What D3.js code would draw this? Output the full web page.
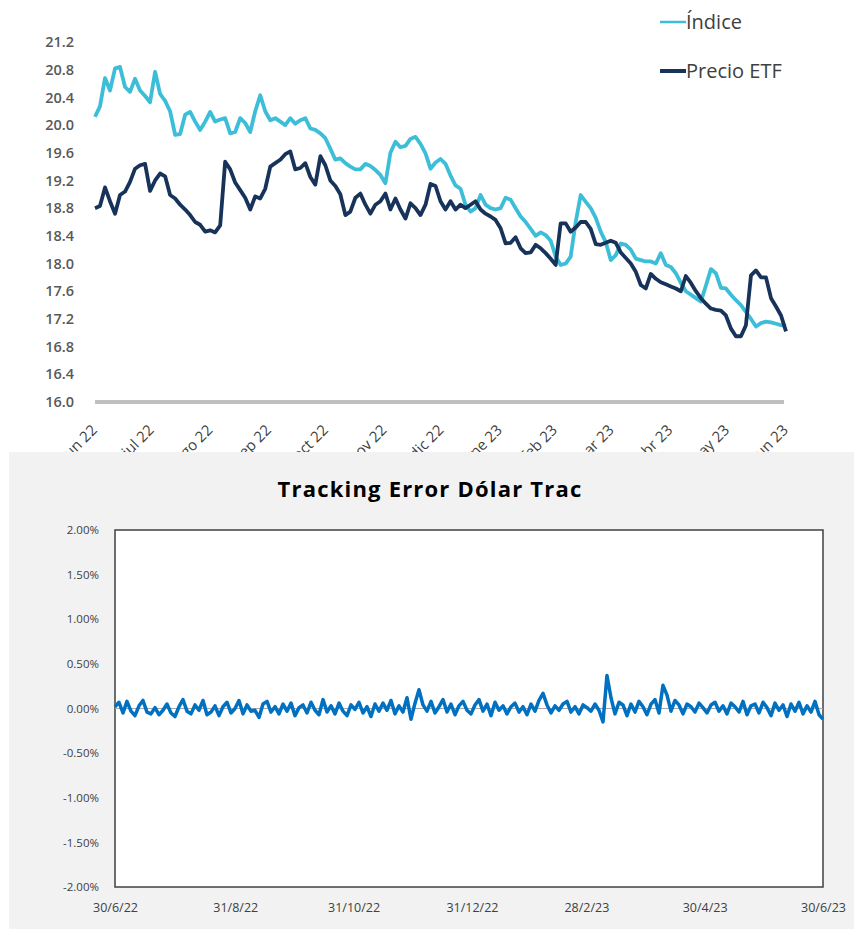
<!DOCTYPE html>
<html>
<head>
<meta charset="utf-8">
<script src="https://cdn.jsdelivr.net/npm/d3@7"></script>
<style>
  body { margin: 0; background: #fff; }
  svg { display: block; font-family: "Open Sans", sans-serif; }
</style>
</head>
<body>
<div id="chart"></div>
<script>
// top chart: Índice vs Precio ETF (one reading every ~2.6 days, 30/6/22 - 30/6/23)
var indice = [20.12, 20.27, 20.68, 20.5, 20.82, 20.84, 20.55, 20.48, 20.67, 20.5,
  20.42, 20.33, 20.77, 20.45, 20.35, 20.2, 19.86, 19.87, 20.15, 20.19,
  20.05, 19.93, 20.05, 20.19, 20.05, 20.08, 20.1, 19.88, 19.9, 20.1,
  20.03, 19.9, 20.2, 20.43, 20.2, 20.07, 20.1, 20.05, 20.0, 20.1,
  20.02, 20.07, 20.1, 19.95, 19.93, 19.88, 19.81, 19.66, 19.5, 19.52,
  19.45, 19.4, 19.36, 19.36, 19.44, 19.41, 19.35, 19.28, 19.16, 19.6,
  19.76, 19.68, 19.7, 19.8, 19.83, 19.73, 19.59, 19.37, 19.46, 19.51,
  19.44, 19.27, 19.13, 19.08, 18.85, 18.75, 18.8, 18.99, 18.85, 18.8,
  18.78, 18.8, 18.95, 18.92, 18.8, 18.68, 18.6, 18.5, 18.4, 18.45,
  18.41, 18.33, 18.1, 17.98, 18.0, 18.1, 18.6, 18.99, 18.89, 18.8,
  18.66, 18.46, 18.31, 18.05, 18.12, 18.29, 18.27, 18.2, 18.07, 18.05,
  18.03, 18.03, 18.0, 18.15, 17.98, 17.95, 17.86, 17.72, 17.6, 17.55,
  17.5, 17.45, 17.68, 17.92, 17.86, 17.65, 17.64, 17.55, 17.47, 17.4,
  17.3, 17.2, 17.09, 17.14, 17.16, 17.15, 17.13, 17.11, 17.1];

var precioEtf = [18.8, 18.83, 19.1, 18.9, 18.72, 18.99, 19.04, 19.18, 19.37, 19.42,
  19.44, 19.05, 19.2, 19.3, 19.26, 18.99, 18.94, 18.85, 18.78, 18.7,
  18.6, 18.56, 18.46, 18.48, 18.45, 18.55, 19.47, 19.36, 19.17, 19.06,
  18.95, 18.78, 18.97, 18.94, 19.08, 19.4, 19.45, 19.5, 19.58, 19.62,
  19.36, 19.38, 19.45, 19.25, 19.14, 19.55, 19.42, 19.2, 19.12, 19.0,
  18.7, 18.75, 18.95, 19.01, 18.85, 18.72, 18.85, 18.9, 19.01, 18.78,
  18.94, 18.78, 18.65, 18.87, 18.8, 18.7, 18.85, 19.15, 19.12, 18.9,
  18.78, 18.9, 18.78, 18.85, 18.8, 18.85, 18.9, 18.78, 18.72, 18.68,
  18.63, 18.51, 18.29, 18.3, 18.38, 18.22, 18.15, 18.16, 18.27, 18.22,
  18.15, 18.07, 17.98, 18.58, 18.58, 18.46, 18.52, 18.6, 18.6, 18.5,
  18.28, 18.27, 18.3, 18.33, 18.3, 18.16, 18.08, 18.0, 17.88, 17.69,
  17.64, 17.85, 17.78, 17.73, 17.7, 17.67, 17.64, 17.6, 17.82, 17.72,
  17.6, 17.5, 17.42, 17.35, 17.33, 17.32, 17.25, 17.06, 16.95, 16.95,
  17.11, 17.83, 17.9, 17.8, 17.8, 17.5, 17.38, 17.25, 17.02];

var topYTicks = [16.0, 16.4, 16.8, 17.2, 17.6, 18.0, 18.4, 18.8, 19.2, 19.6, 20.0, 20.4, 20.8, 21.2];
var monthLabels = ['jun 22', 'jul 22', 'ago 22', 'sep 22', 'oct 22', 'nov 22', 'dic 22',
  'ene 23', 'feb 23', 'mar 23', 'abr 23', 'may 23', 'jun 23'];
var monthDates = ['2022-06-30', '2022-07-30', '2022-08-30', '2022-09-30', '2022-10-30', '2022-11-30', '2022-12-30',
  '2023-01-30', '2023-02-28', '2023-03-30', '2023-04-30', '2023-05-30', '2023-06-30'];

// bottom chart: daily tracking error, in %
var trackingError = [0.02, 0.07, -0.05, 0.08, -0.03, -0.08, 0.03, 0.09, -0.04, -0.06,
  0.01, -0.07, -0.02, 0.05, -0.05, -0.09, 0.02, 0.10, -0.03, -0.06,
  0.04, -0.02, 0.09, -0.07, -0.04, 0.03, -0.08, 0.02, 0.07, -0.05,
  0.00, 0.09, -0.06, 0.04, -0.03, -0.02, -0.10, 0.05, 0.08, -0.04,
  0.02, -0.06, 0.05, -0.03, 0.06, -0.08, 0.01, 0.04, -0.05, 0.07,
  -0.02, -0.07, 0.10, -0.04, 0.03, -0.06, 0.06, -0.03, -0.08, 0.04,
  -0.01, 0.07, -0.05, 0.02, -0.09, 0.05, -0.03, 0.06, -0.02, 0.09,
  -0.06, 0.03, -0.04, 0.12, -0.12, 0.06, 0.21, 0.04, -0.03, 0.08,
  -0.05, 0.02, 0.10, -0.04, 0.05, -0.07, 0.03, 0.08, -0.02, -0.06,
  0.04, 0.10, -0.03, 0.05, -0.08, 0.07, -0.02, 0.03, -0.06, 0.02,
  0.06, -0.04, 0.02, -0.07, 0.05, -0.03, 0.09, 0.17, 0.04, -0.05,
  0.03, -0.02, 0.05, 0.08, -0.04, 0.02, -0.06, 0.04, 0.01, -0.03,
  0.05, -0.02, -0.15, 0.37, 0.12, -0.06, 0.07, 0.04, -0.08, 0.05,
  -0.04, 0.08, 0.02, -0.07, 0.05, 0.10, -0.05, 0.26, 0.15, -0.03,
  0.09, 0.04, -0.06, 0.05, 0.02, -0.04, 0.06, 0.01, -0.05, 0.04,
  0.07, -0.03, 0.03, -0.06, 0.06, 0.02, -0.04, 0.08, -0.07, 0.03,
  0.05, -0.05, 0.07, 0.01, -0.08, 0.06, -0.02, 0.04, -0.09, 0.05,
  -0.03, 0.07, -0.06, 0.03, -0.04, 0.08, -0.07, -0.12];

var teYTicks = [-2.0, -1.5, -1.0, -0.5, 0.0, 0.5, 1.0, 1.5, 2.0];
var teXLabels = ['30/6/22', '31/8/22', '31/10/22', '31/12/22', '28/2/23', '30/4/23', '30/6/23'];
var teXDates = ['2022-06-30', '2022-08-31', '2022-10-31', '2022-12-31', '2023-02-28', '2023-04-30', '2023-06-30'];

var svgWidth = 854;
var svgHeight = 930;
var parseDate = d3.timeParse('%Y-%m-%d');
var startDate = parseDate('2022-06-30');
var endDate = parseDate('2023-06-30');

var svg = d3.select('#chart').append('svg')
  .attr('width', svgWidth)
  .attr('height', svgHeight);

//------------------------------------------------------------------ top chart
var topX = d3.scaleTime().domain([startDate, endDate]).range([95, 786]);
var topY = d3.scaleLinear().domain([16.0, 21.2]).range([402, 42]);

function dateAt(i, n) {
  return d3.timeHour.offset(startDate, Math.round(i * (endDate - startDate) / 3600000 / (n - 1)));
}

var yAxisTop = svg.append('g')
  .attr('transform', 'translate(80,0)')
  .call(d3.axisLeft(topY).tickValues(topYTicks).tickFormat(d3.format('.1f')).tickSize(0).tickPadding(6));
yAxisTop.select('.domain').remove();
yAxisTop.selectAll('text')
  .attr('font-family', '"Open Sans", sans-serif')
  .attr('font-size', '14.5px')
  .attr('font-weight', 600)
  .attr('fill', '#595959');

// month labels (partly hidden by the lower panel, as in the source)
svg.append('g').selectAll('text')
  .data(monthDates)
  .enter()
  .append('text')
  .attr('transform', d => 'translate(' + (topX(parseDate(d)) + 3) + ',431) rotate(-45)')
  .attr('text-anchor', 'end')
  .attr('font-size', '15px')
  .attr('fill', '#404040')
  .text((d, i) => monthLabels[i]);

svg.append('line')
  .attr('x1', topX(startDate))
  .attr('x2', topX(endDate) - 2)
  .attr('y1', topY(16.0))
  .attr('y2', topY(16.0))
  .attr('stroke', '#bfbfbf')
  .attr('stroke-width', 4);

var topLine = d3.line()
  .x((d, i, arr) => topX(dateAt(i, arr.length)))
  .y(d => topY(d));

svg.append('path')
  .datum(indice)
  .attr('d', topLine)
  .attr('fill', 'none')
  .attr('stroke', '#3dbed8')
  .attr('stroke-width', 3.8)
  .attr('stroke-linejoin', 'round');

svg.append('path')
  .datum(precioEtf)
  .attr('d', topLine)
  .attr('fill', 'none')
  .attr('stroke', '#17335a')
  .attr('stroke-width', 3.8)
  .attr('stroke-linejoin', 'round');

// legend
var legend = [{name: 'Índice', color: '#3dbed8', y: 22}, {name: 'Precio ETF', color: '#17335a', y: 71}];
var lg = svg.append('g').selectAll('g')
  .data(legend)
  .enter()
  .append('g')
  .attr('transform', d => 'translate(660,' + d.y + ')');
lg.append('line')
  .attr('x1', 0).attr('x2', 26)
  .attr('stroke', d => d.color)
  .attr('stroke-width', d => d.name == 'Índice' ? 2.5 : 4);
lg.append('text')
  .attr('x', 26)
  .attr('dy', '0.35em')
  .attr('font-size', '20px')
  .attr('fill', '#404040')
  .text(d => d.name);

//------------------------------------------------------------------ bottom chart
svg.append('rect')
  .attr('x', 9).attr('y', 452)
  .attr('width', svgWidth - 9).attr('height', 477)
  .attr('fill', '#f2f2f2');

svg.append('text')
  .attr('x', 430)
  .attr('y', 497)
  .attr('text-anchor', 'middle')
  .attr('font-size', '22px')
  .attr('font-weight', 700)
  .attr('letter-spacing', '1.2px')
  .attr('fill', '#000')
  .text('Tracking Error Dólar Trac');

var teX = d3.scaleTime().domain([startDate, endDate]).range([115, 823]);
var teY = d3.scaleLinear().domain([-2, 2]).range([887, 530]);

svg.append('rect')
  .attr('x', teX.range()[0]).attr('y', teY(2))
  .attr('width', teX.range()[1] - teX.range()[0])
  .attr('height', teY(-2) - teY(2))
  .attr('fill', '#fff')
  .attr('stroke', '#404040')
  .attr('stroke-width', 1.5);

var yAxisTe = svg.append('g')
  .attr('transform', 'translate(' + (teX.range()[0] - 16) + ',0)')
  .call(d3.axisLeft(teY).tickValues(teYTicks).tickFormat(d => d.toFixed(2) + '%').tickSize(0).tickPadding(0));
yAxisTe.select('.domain').remove();
yAxisTe.selectAll('text')
  .attr('font-family', '"Open Sans", sans-serif')
  .attr('font-size', '11.5px')
  .attr('fill', '#404040');

var xAxisTe = svg.append('g')
  .attr('transform', 'translate(0,' + (teY(-2) + 12) + ')')
  .call(d3.axisBottom(teX).tickValues(teXDates.map(parseDate)).tickFormat((d, i) => teXLabels[i]).tickSize(0).tickPadding(4));
xAxisTe.select('.domain').remove();
xAxisTe.selectAll('text')
  .attr('font-family', '"Open Sans", sans-serif')
  .attr('font-size', '12.5px')
  .attr('fill', '#404040');

svg.append('line')
  .attr('x1', teX.range()[0]).attr('x2', teX.range()[1])
  .attr('y1', teY(0)).attr('y2', teY(0))
  .attr('stroke', '#a6a6a6')
  .attr('stroke-width', 1);

var teLine = d3.line()
  .x((d, i, arr) => teX(dateAt(i, arr.length)))
  .y(d => teY(d));

svg.append('path')
  .datum(trackingError)
  .attr('d', teLine)
  .attr('fill', 'none')
  .attr('stroke', '#0070c0')
  .attr('stroke-width', 3.5)
  .attr('stroke-linejoin', 'round');
</script>
</body>
</html>
